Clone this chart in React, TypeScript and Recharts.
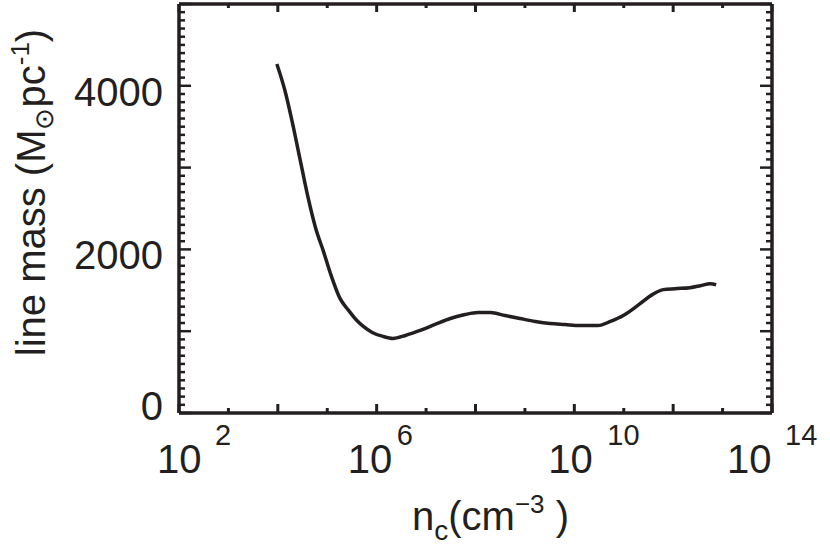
import { LineChart, Line, XAxis, YAxis, ReferenceLine } from 'recharts';

// log10 of central density n_c (cm^-3)
const logDensity = [
  3.98, 4.15, 4.29, 4.45, 4.61, 4.77, 4.92, 5.06, 5.26, 5.42,
  5.58, 5.73, 5.91, 6.13, 6.33, 6.58, 6.88, 7.18, 7.49, 7.79,
  8.05, 8.3, 8.6, 8.9, 9.21, 9.51, 9.81, 10.12, 10.48, 10.73,
  10.99, 11.17, 11.33, 11.58, 11.8, 12.04, 12.34, 12.55, 12.75, 12.87,
];
// line mass (Msun / pc)
const lineMass = [
  4267, 3927, 3562, 3100, 2638, 2249, 1982, 1714, 1398, 1264,
  1143, 1058, 985, 936, 912, 948, 1009, 1082, 1155, 1204,
  1228, 1228, 1191, 1155, 1119, 1094, 1082, 1070, 1070, 1119,
  1191, 1264, 1337, 1447, 1508, 1520, 1532, 1556, 1581, 1568,
];

const xTicks = [2, 3, 4, 5, 6, 7, 8, 9, 10, 11, 12, 13, 14];
const yTicks = Array.from({ length: 51 }, (_, i) => i * 100);
const yLabelled = [0, 2000, 4000];

const data = logDensity.map((x, i) => ({ x, m: lineMass[i] }));

const INK = '#231f20';
const FONT = '"Liberation Sans", Arial, Helvetica, sans-serif';

const W = 830;
const H = 551;
const X_MIN = 2;
const X_MAX = 14;
const Y_MIN = 0;
const Y_MAX = 5000;

// tick lengths in data units (plot is ~593 x 409 px)
const xUnitPerPx = (X_MAX - X_MIN) / 593;
const yUnitPerPx = (Y_MAX - Y_MIN) / 409;

// IDL-ish placement of "10" and exponent relative to the tick
const xLabelShift: Record<number, [number, number]> = {
  2: [-22, 36],
  6: [-29, 20],
  10: [-26, 33],
  14: [-45, 13],
};

const BottomTick = (props: any) => {
  const x = Number(props.x);
  const y = Number(props.y);
  const v = props.payload.value;
  const sh = xLabelShift[v];
  return (
    <g>
      {sh && (
        <g fill={INK} fontFamily={FONT}>
          <text x={x + sh[0]} y={y + 60} fontSize={40}>10</text>
          <text x={x + sh[1]} y={y + 32} fontSize={29}>{v}</text>
        </g>
      )}
      {v === 2 && (
        <text x={x + 233} y={y + 117} fontSize={40} fill={INK} fontFamily={FONT}>
          n
          <tspan fontSize={28} dy={10}>c</tspan>
          <tspan dy={-10}>(cm</tspan>
          <tspan fontSize={26} dy={-17}>−3</tspan>
          <tspan dy={17}> )</tspan>
        </text>
      )}
    </g>
  );
};

const LeftTick = (props: any) => {
  const x = Number(props.x);
  const y = Number(props.y);
  const v = props.payload.value;
  const cx = x - 134;
  const cy = y - 409 / 2 - 16;
  return (
    <g>
      {yLabelled.includes(v) && (
        <text x={x - 16} y={y + (v === 0 ? 7 : 20)} textAnchor="end" fontSize={40} fill={INK} fontFamily={FONT}>
          {v}
        </text>
      )}
      {v === 0 && (
        <text
          x={cx}
          y={cy}
          transform={`rotate(-90, ${cx}, ${cy})`}
          textAnchor="middle"
          fontSize={40}
          fill={INK}
          fontFamily={FONT}
        >
          line mass (M
          <tspan fontSize={26} dy={8}>⊙</tspan>
          <tspan dy={-8}>pc</tspan>
          <tspan fontSize={26} dy={-16}>-1</tspan>
          <tspan dy={16}>)</tspan>
        </text>
      )}
    </g>
  );
};

export default function App() {
  return (
    <div style={{ position: 'absolute', left: 0, top: 0, width: W, height: H, background: '#fff' }}>
      <LineChart width={W} height={H} data={data} margin={{ top: 4, right: 58, bottom: 0, left: 0 }}>
        <XAxis
          dataKey="x"
          type="number"
          domain={[X_MIN, X_MAX]}
          ticks={xTicks}
          interval={0}
          tickLine={false}
          tickSize={0}
          tickMargin={0}
          height={138}
          axisLine={{ stroke: INK, strokeWidth: 3.5 }}
          tick={BottomTick}
        />
        <YAxis
          type="number"
          domain={[Y_MIN, Y_MAX]}
          ticks={yTicks}
          interval={0}
          tickLine={false}
          tickSize={0}
          tickMargin={0}
          width={179}
          axisLine={{ stroke: INK, strokeWidth: 3.5 }}
          tick={LeftTick}
        />
        <ReferenceLine y={Y_MAX} stroke={INK} strokeWidth={3.5} />
        <ReferenceLine x={X_MAX} stroke={INK} strokeWidth={3.5} />

        {/* x ticks, bottom and top, pointing inward */}
        {xTicks.map((v) => {
          const major = v % 2 === 0;
          const lb = (major ? 9 : 5) * yUnitPerPx;
          const lt = (major ? 8 : 4) * yUnitPerPx;
          return [
            <ReferenceLine
              key={`xb${v}`}
              segment={[{ x: v, y: Y_MIN }, { x: v, y: Y_MIN + lb }]}
              stroke={INK}
              strokeWidth={3}
            />,
            <ReferenceLine
              key={`xt${v}`}
              segment={[{ x: v, y: Y_MAX }, { x: v, y: Y_MAX - lt }]}
              stroke={INK}
              strokeWidth={3}
            />,
          ];
        })}

        {/* y ticks, left and right, pointing inward */}
        {yTicks.map((v) => {
          const len = (v % 1000 === 0 ? 12 : 6) * xUnitPerPx;
          return [
            <ReferenceLine
              key={`yl${v}`}
              segment={[{ x: X_MIN, y: v }, { x: X_MIN + len, y: v }]}
              stroke={INK}
              strokeWidth={2.5}
            />,
            <ReferenceLine
              key={`yr${v}`}
              segment={[{ x: X_MAX, y: v }, { x: X_MAX - len, y: v }]}
              stroke={INK}
              strokeWidth={2.5}
            />,
          ];
        })}

        <Line
          type="monotone"
          dataKey="m"
          stroke={INK}
          strokeWidth={3.5}
          dot={false}
          isAnimationActive={false}
        />
      </LineChart>
    </div>
  );
}
